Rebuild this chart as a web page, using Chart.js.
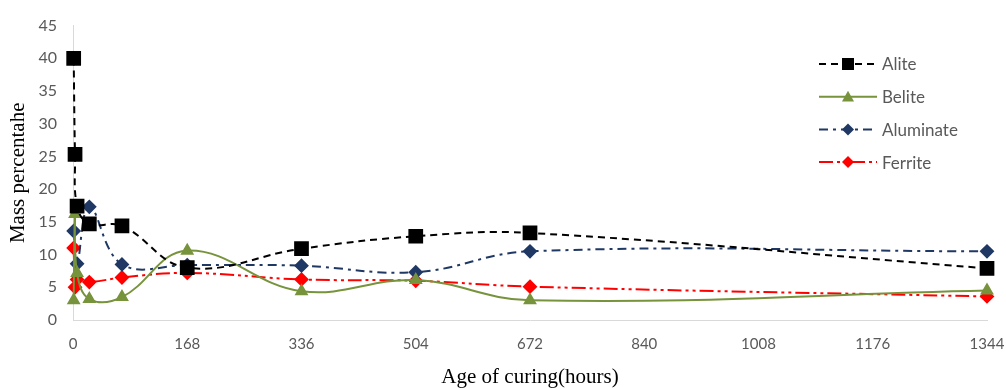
<!DOCTYPE html>
<html>
<head>
<meta charset="utf-8">
<script src="https://cdn.jsdelivr.net/npm/chart.js@4/dist/chart.umd.min.js"></script>
<style>
  html, body { margin: 0; padding: 0; background: #fff; }
  #wrap { width: 1006px; height: 388px; position: relative; }
</style>
</head>
<body>
<div id="wrap"><canvas id="chart"></canvas></div>
<script>
// curing age in hours, shared by all series
const hours     = [1, 3, 6, 24, 72, 168, 336, 504, 672, 1344];
const alite     = [40.0, 25.3, 17.4, 14.7, 14.4, 8.0, 10.9, 12.8, 13.3, 7.9];
const belite    = [3.0, 16.2, 7.2, 3.2, 3.5, 10.6, 4.4, 6.1, 3.0, 4.5];
const aluminate = [13.6, null, 8.6, 17.3, 8.5, 8.4, 8.3, 7.3, 10.5, 10.5];
const ferrite   = [11.0, 5.0, 6.2, 5.8, 6.5, 7.2, 6.2, 6.0, 5.1, 3.6];
const xTicks    = [0, 168, 336, 504, 672, 840, 1008, 1176, 1344];

function toPoints(values) {
    return hours.map((h, i) => ({ x: h, y: values[i] }));
}

// legend drawn over the plot, top right, like the original
const legendX = 819;
const legendTop = 64;
const legendGap = 32.7;

function marker(ctx, style, r, x, y) {
    ctx.beginPath();
    if (style === 'rect') {
        ctx.rect(x - r, y - r, 2 * r, 2 * r);
    } else if (style === 'triangle') {
        ctx.moveTo(x, y - r);
        ctx.lineTo(x + r, y + r * 0.8);
        ctx.lineTo(x - r, y + r * 0.8);
        ctx.closePath();
    } else {
        ctx.moveTo(x, y - r);
        ctx.lineTo(x + r, y);
        ctx.lineTo(x, y + r);
        ctx.lineTo(x - r, y);
        ctx.closePath();
    }
    ctx.fill();
}

const sideLegend = {
    id: 'sideLegend',
    afterDraw(chart) {
        const ctx = chart.ctx;
        chart.data.datasets.forEach((ds, i) => {
            const y = legendTop + i * legendGap;
            ctx.save();
            ctx.strokeStyle = ds.borderColor;
            ctx.lineWidth = ds.borderWidth;
            ctx.setLineDash(ds.borderDash || []);
            ctx.beginPath();
            ctx.moveTo(legendX, y);
            ctx.lineTo(legendX + 58, y);
            ctx.stroke();
            ctx.setLineDash([]);
            ctx.fillStyle = ds.pointBackgroundColor;
            marker(ctx, ds.pointStyle, ds.legendMarker, legendX + 29, y);
            ctx.fillStyle = '#595959';
            ctx.font = '17px Lato';
            ctx.textBaseline = 'middle';
            ctx.fillText(ds.label, legendX + 63, y + 1);
            ctx.restore();
        });
    }
};

const ctx = document.getElementById('chart').getContext('2d');
new Chart(ctx, {
    type: 'line',
    data: {
        datasets: [{
            label: 'Alite',
            data: toPoints(alite),
            borderColor: '#000000',
            pointBackgroundColor: '#000000',
            pointBorderColor: '#000000',
            borderWidth: 2,
            borderDash: [7, 5],
            pointStyle: 'rect',
            pointRadius: 9,
            legendMarker: 6
        }, {
            label: 'Belite',
            data: toPoints(belite),
            borderColor: '#77933C',
            pointBackgroundColor: '#77933C',
            pointBorderColor: '#77933C',
            borderWidth: 2,
            pointStyle: 'triangle',
            pointRadius: 6,
            legendMarker: 6
        }, {
            label: 'Aluminate',
            data: toPoints(aluminate),
            borderColor: '#1F3864',
            pointBackgroundColor: '#1F3864',
            pointBorderColor: '#1F3864',
            borderWidth: 2,
            borderDash: [9, 5, 3, 5],
            pointStyle: 'rectRot',
            pointRadius: 6,
            legendMarker: 6,
            spanGaps: true
        }, {
            label: 'Ferrite',
            data: toPoints(ferrite),
            borderColor: '#FF0000',
            pointBackgroundColor: '#FF0000',
            pointBorderColor: '#FF0000',
            borderWidth: 2,
            borderDash: [14, 4, 3, 4, 3, 4],
            pointStyle: 'rectRot',
            pointRadius: 6,
            legendMarker: 6
        }]
    },
    options: {
        responsive: true,
        maintainAspectRatio: false,
        animation: false,
        layout: {
            padding: { top: 22, right: 19, left: 0, bottom: 0 }
        },
        elements: {
            line: { tension: 0.4, fill: false },
            point: { borderWidth: 1, hoverRadius: 6 }
        },
        datasets: {
            line: { clip: { left: 12, top: 5, right: 12, bottom: 8 } }
        },
        plugins: {
            legend: { display: false },
            tooltip: { enabled: false }
        },
        scales: {
            x: {
                type: 'linear',
                min: 0,
                max: 1344,
                afterBuildTicks: (scale) => {
                    scale.ticks = xTicks.map(v => ({ value: v }));
                },
                afterFit: (scale) => {
                    scale.height = 68;
                    scale.paddingLeft = 0;
                    scale.paddingRight = 0;
                },
                grid: { display: false, drawTicks: false, tickLength: 0 },
                border: { display: true, color: '#D9D9D9', width: 1 },
                ticks: {
                    padding: 15,
                    color: '#595959',
                    maxRotation: 0,
                    callback: (v) => String(v),
                    font: { family: 'Lato', size: 15 }
                },
                title: {
                    display: true,
                    text: 'Age of curing(hours)',
                    color: '#000000',
                    padding: { top: 0, bottom: 0 },
                    font: { family: 'Liberation Serif', size: 21, lineHeight: 1 }
                }
            },
            y: {
                min: 0,
                max: 45,
                afterFit: (scale) => { scale.width = 73; },
                grid: { display: false, drawTicks: false, tickLength: 0 },
                border: { display: true, color: '#D9D9D9', width: 1 },
                ticks: {
                    stepSize: 5,
                    padding: 16,
                    color: '#595959',
                    font: { family: 'Lato', size: 16 }
                },
                title: {
                    display: true,
                    text: 'Mass percentahe',
                    color: '#000000',
                    padding: { top: 8, bottom: 0 },
                    font: { family: 'Liberation Serif', size: 21, lineHeight: 1 }
                }
            }
        }
    },
    plugins: [sideLegend]
});
</script>
</body>
</html>
